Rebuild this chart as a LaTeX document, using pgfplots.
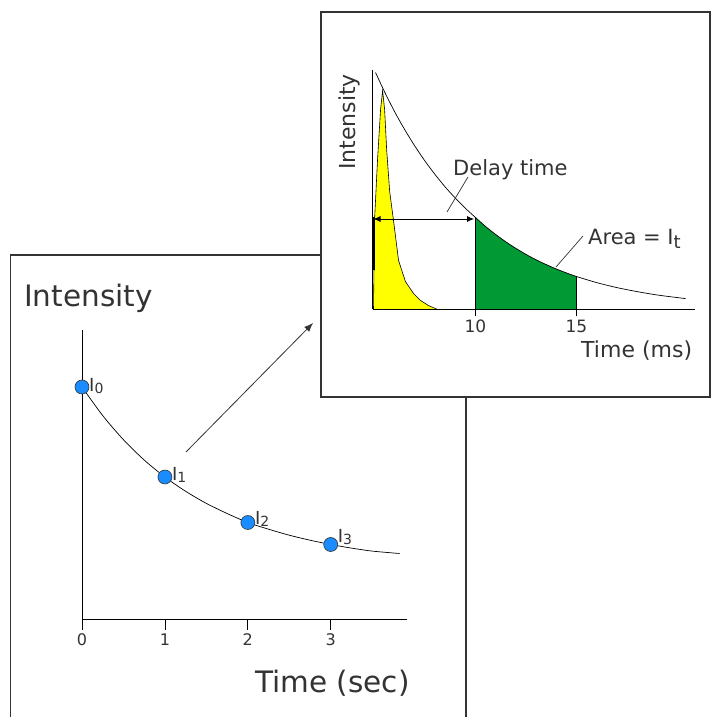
\documentclass[border=0pt]{standalone}
\usepackage{pgfplots}
\pgfplotsset{compat=1.18}
\usepackage{fontspec}
\setmainfont{DejaVu Sans}
\usetikzlibrary{arrows.meta}
\definecolor{ink}{HTML}{333333}
\definecolor{dotblue}{HTML}{1A8CFF}
\definecolor{areagreen}{HTML}{009933}
\definecolor{peakyellow}{HTML}{FFFF00}
\pgfplotsset{/pgf/number format/assume math mode=true}

\begin{document}
\begin{tikzpicture}
\useasboundingbox (0,0) rectangle (714pt,717pt);

% left panel
\draw[ink, line width=1.5pt] (10.5pt,-5pt) -- (10.5pt,462pt) -- (466pt,462pt) -- (466pt,-5pt);
\begin{axis}[
  at={(82pt,97pt)}, anchor=south west,
  scale only axis, width=325pt, height=290pt,
  xmin=0, xmax=3.92, ymin=0, ymax=290,
  axis x line=bottom, axis y line=left,
  axis line style={-, black, line width=1pt},
  xtick={0,1,2,3}, ytick=\empty,
  tick align=outside, major tick length=10pt,
  tick style={black, line width=0.8pt},
  xticklabel style={font=\fontsize{16}{16}\selectfont, text=ink},
  clip=false,
]
\addplot[black, line width=0.7pt, smooth] coordinates {
  (0,233) (0.25,204.4) (0.5,180.3) (0.75,160) (1,143) (1.25,128.7) (1.5,116.6)
  (1.75,106.5) (2,97.5) (2.25,90.8) (2.5,84.8) (2.75,79.8) (3,75.5) (3.25,71.9)
  (3.5,68.9) (3.83,66.5)
};
\addplot[only marks, mark=*, mark size=7pt, mark options={fill=dotblue, draw=ink, line width=0.6pt}]
  coordinates {(0,233) (1,143) (2,97.5) (3,75.5)};
\node[anchor=base west, text=ink, inner sep=0pt, xshift=7pt, yshift=-5pt] at (axis cs:0,233)
  {\fontsize{18}{18}\selectfont I\raisebox{-2pt}{\fontsize{14}{14}\selectfont 0}};
\node[anchor=base west, text=ink, inner sep=0pt, xshift=7pt, yshift=-4pt] at (axis cs:1,143)
  {\fontsize{18}{18}\selectfont I\raisebox{-2pt}{\fontsize{14}{14}\selectfont 1}};
\node[anchor=base west, text=ink, inner sep=0pt, xshift=7pt, yshift=-2pt] at (axis cs:2,97.5)
  {\fontsize{18}{18}\selectfont I\raisebox{-2pt}{\fontsize{14}{14}\selectfont 2}};
\node[anchor=base west, text=ink, inner sep=0pt, xshift=7pt, yshift=2pt] at (axis cs:3,75.5)
  {\fontsize{18}{18}\selectfont I\raisebox{-2pt}{\fontsize{14}{14}\selectfont 3}};
\end{axis}
\node[anchor=base west, text=ink, inner sep=0pt] at (24pt,410pt) {\fontsize{29.5}{30}\selectfont Intensity};
\node[anchor=base west, text=ink, inner sep=0pt] at (255pt,24pt) {\fontsize{29.5}{30}\selectfont Time (sec)};
\draw[ink, line width=0.8pt, -{Latex[length=9pt,width=7pt]}] (186pt,265pt) -- (313pt,394pt);

% right panel
\draw[ink, line width=1.5pt, fill=white] (321pt,320pt) rectangle (710pt,705pt);
\begin{axis}[
  at={(372.5pt,407.5pt)}, anchor=south west,
  scale only axis, width=322.5pt, height=239.5pt,
  xmin=4.9, xmax=20.87, ymin=0, ymax=239.5,
  axis x line=bottom, axis y line=left,
  axis line style={-, black, line width=1pt},
  axis on top,
  xtick={10,15}, ytick=\empty,
  tick align=outside, major tick length=7pt,
  tick style={black, line width=0.8pt},
  xticklabel style={font=\fontsize{17}{17}\selectfont, text=ink},
  clip=false,
]
\addplot[fill=peakyellow, draw=black, line width=0.6pt] coordinates {
  (4.95,0) (5.0,89) (5.15,150) (5.3,200) (5.4,219) (5.5,200) (5.6,160)
  (5.75,118) (5.94,89) (6.19,49) (6.53,28) (6.93,16) (7.28,9) (7.67,4) (8.12,0)
} \closedcycle;
\addplot[fill=areagreen, draw=none] coordinates {
  (10,92) (10.5,83) (11,75) (11.5,67.7) (12,61.1) (12.5,55.1) (13,49.7)
  (13.5,44.9) (14,40.5) (14.5,36.6) (15,33)
} \closedcycle;
\addplot[black, line width=0.8pt] coordinates {(10,0) (10,92)};
\addplot[black, line width=0.8pt] coordinates {(15,0) (15,33)};
\addplot[black, line width=0.7pt, smooth] coordinates {
  (5.05,237) (5.5,217.5) (6,197.6) (6.5,179.7) (7,163.3) (7.5,148.4) (8,134.9)
  (8.5,122.5) (9,111.4) (9.5,101.2) (10,92) (10.5,83) (11,75) (11.5,67.7)
  (12,61.1) (12.5,55.1) (13,49.7) (13.5,44.9) (14,40.5) (14.5,36.6) (15,33)
  (16,26.9) (17,21.9) (18,17.9) (19,14.5) (20,11.9) (20.4,10.9)
};
\end{axis}
\draw[black, line width=2.5pt] (373.5pt,500pt) -- (373.5pt,447pt);
\draw[black, line width=0.8pt, {Latex[length=7pt,width=6pt]}-{Latex[length=7pt,width=6pt]}] (373.5pt,498pt) -- (474pt,498pt);
\draw[ink, line width=0.7pt] (468pt,540pt) -- (447pt,505pt);
\draw[ink, line width=0.7pt] (583pt,481pt) -- (556pt,450pt);
\node[rotate=90, anchor=base west, text=ink, inner sep=0pt] at (355pt,547pt) {\fontsize{22}{22}\selectfont Intensity};
\node[anchor=base west, text=ink, inner sep=0pt] at (453pt,541pt) {\fontsize{21}{21}\selectfont Delay time};
\node[anchor=base west, text=ink, inner sep=0pt] at (588pt,472pt)
  {\fontsize{21}{21}\selectfont Area = I\raisebox{-4pt}{\fontsize{18}{18}\selectfont t}};
\node[anchor=base west, text=ink, inner sep=0pt] at (581pt,359pt) {\fontsize{22}{22}\selectfont Time (ms)};
\end{tikzpicture}
\end{document}
